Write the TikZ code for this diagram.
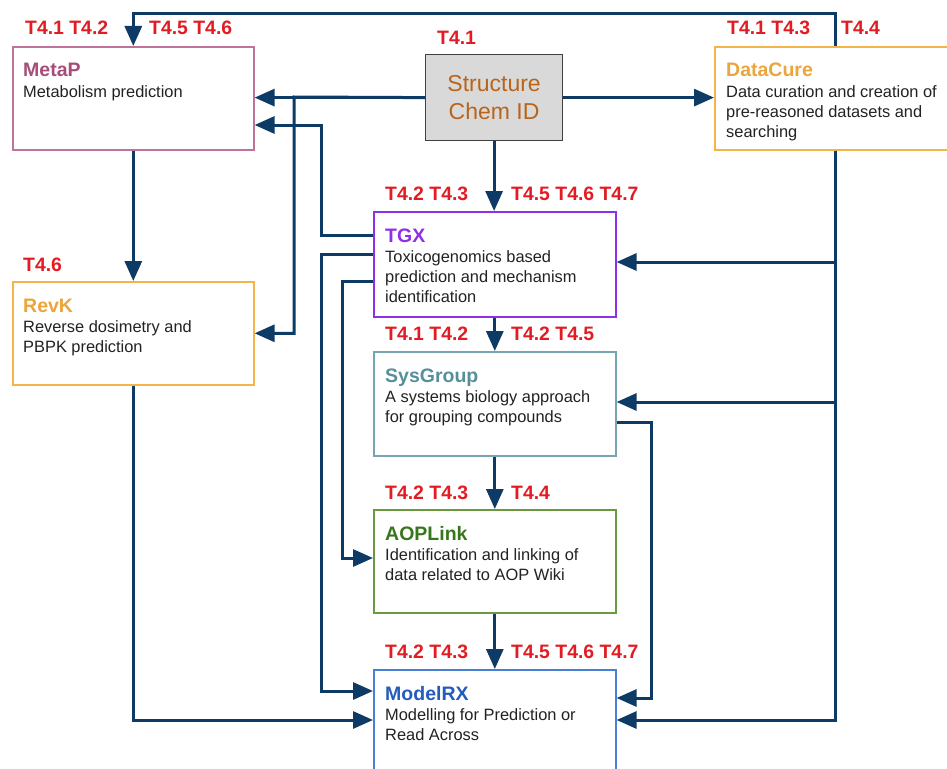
\documentclass[tikz,border=0pt]{standalone}
\usepackage{fontspec}
\setmainfont{Liberation Sans}
\usetikzlibrary{arrows.meta}

\definecolor{flowc}{HTML}{0D3B66}
\definecolor{tagc}{HTML}{E31B23}
\definecolor{bodyc}{HTML}{222222}
\definecolor{metab}{HTML}{C0739A}
\definecolor{metat}{HTML}{A64D79}
\definecolor{cureb}{HTML}{F4B448}
\definecolor{curet}{HTML}{ECA53A}
\definecolor{tgxc}{HTML}{9030E6}
\definecolor{sysb}{HTML}{76A5AF}
\definecolor{syst}{HTML}{55909A}
\definecolor{aopb}{HTML}{6A9A3F}
\definecolor{aopt}{HTML}{38761D}
\definecolor{modb}{HTML}{4A7FD6}
\definecolor{modt}{HTML}{245CBC}
\definecolor{chemt}{HTML}{B8651B}

\tikzset{
  flow/.style={line width=3pt, draw=flowc, -{Triangle[length=20pt,width=17pt]}},
  block/.style={draw, line width=1.6pt, fill=white, anchor=north west, inner sep=0pt},
  title/.style={anchor=base west, inner sep=0pt, font=\fontsize{19.5}{23}\selectfont\bfseries},
  body/.style={anchor=base west, inner sep=0pt, align=left, text=bodyc,
    font=\fontsize{16.4}{20}\selectfont},
  tag/.style={anchor=base west, inner sep=0pt, text=tagc,
    font=\fontsize{19.4}{23}\selectfont\bfseries},
}

\begin{document}
\begin{tikzpicture}[x=1pt,y=-1pt]
  \useasboundingbox (0,0) rectangle (947,768);
  \clip (0,0) rectangle (947,768);
  \fill[white] (0,0) rectangle (947,768);

  % boxes
  \node[block, draw=metab, minimum width=241pt, minimum height=103pt] (metap) at (12,46) {};
  \node[block, draw=cureb, minimum width=240pt, minimum height=103pt] (datacure) at (714,46) {};
  \node[block, draw=cureb, minimum width=241pt, minimum height=103pt] (revk) at (12,281) {};
  \node[block, draw=tgxc, minimum width=242pt, minimum height=105pt] (tgx) at (373,211) {};
  \node[block, draw=sysb, minimum width=242pt, minimum height=104pt] (sysgroup) at (373,351) {};
  \node[block, draw=aopb, minimum width=242pt, minimum height=103pt] (aoplink) at (373,509) {};
  \node[block, draw=modb, minimum width=242pt, minimum height=110pt] (modelrx) at (373,669) {};
  \node[block, draw=black!75, line width=1.2pt, fill=black!15, minimum width=137pt,
    minimum height=86pt, align=center, text=chemt,
    font=\fontsize{23}{28}\selectfont] (chem) at (425,54) {Structure\\Chem ID};

  % box texts (body nodes sit on the baseline of their last line)
  \node[title, text=metat] (metapT) at (23,77) {MetaP};
  \node[body] (metapB) at (23,97) {Metabolism prediction};
  \node[title, text=curet] (datacureT) at (726,77) {DataCure};
  \node[body] (datacureB) at (726,137) {Data curation and creation of\\pre-reasoned datasets and\\searching};
  \node[title, text=curet] (revkT) at (23,312) {RevK};
  \node[body] (revkB) at (23,352) {Reverse dosimetry and\\PBPK prediction};
  \node[title, text=tgxc] (tgxT) at (385,242) {TGX};
  \node[body] (tgxB) at (385,302) {Toxicogenomics based\\prediction and mechanism\\identification};
  \node[title, text=syst] (sysgroupT) at (385,382) {SysGroup};
  \node[body] (sysgroupB) at (385,422) {A systems biology approach\\for grouping compounds};
  \node[title, text=aopt] (aoplinkT) at (385,540) {AOPLink};
  \node[body] (aoplinkB) at (385,580) {Identification and linking of\\data related to AOP Wiki};
  \node[title, text=modt] (modelrxT) at (385,700) {ModelRX};
  \node[body] (modelrxB) at (385,740) {Modelling for Prediction or\\Read Across};

  % task tags
  \node[tag] (tagA) at (25,35) {T4.1 T4.2};
  \node[tag] (tagB) at (149,35) {T4.5 T4.6};
  \node[tag] (tagC) at (437,45) {T4.1};
  \node[tag] (tagD) at (727,35) {T4.1 T4.3};
  \node[tag] (tagE) at (841,35) {T4.4};
  \node[tag] (tagF) at (23,271) {T4.6};
  \node[tag] (tagG) at (385,200) {T4.2 T4.3};
  \node[tag] (tagH) at (511,200) {T4.5 T4.6 T4.7};
  \node[tag] (tagI) at (385,340) {T4.1 T4.2};
  \node[tag] (tagJ) at (511,340) {T4.2 T4.5};
  \node[tag] (tagK) at (385,499) {T4.2 T4.3};
  \node[tag] (tagL) at (511,499) {T4.4};
  \node[tag] (tagM) at (385,658) {T4.2 T4.3};
  \node[tag] (tagN) at (511,658) {T4.5 T4.6 T4.7};

  % connectors
  \draw[flow] (chem.west) -- (metap.east |- chem.west);
  \draw[flow] (chem.east) -- (datacure.west |- chem.east);
  \draw[flow] (chem.south) -- (chem.south |- tgx.north);
  \draw[flow] (chem.west) -- (294,97) |- (revk.east);
  \draw[flow] (tgx.west |- 0,235) -| (321,125) -- (metap.east |- 0,125);
  \draw[flow] (tgx.west |- 0,254) -| (321,691) -- (modelrx.west |- 0,691);
  \draw[flow] (tgx.west |- 0,281) -| (342,558) -- (aoplink.west |- 0,558);
  \draw[flow] (metap.south) -- (revk.north);
  \draw[flow] (revk.south) |- (modelrx.west |- 0,720);
  \draw[flow] (tgx.south) -- (sysgroup.north);
  \draw[flow] (sysgroup.south) -- (aoplink.north);
  \draw[flow] (aoplink.south) -- (modelrx.north);
  \draw[flow] (sysgroup.east |- 0,422) -| (651,698) -- (modelrx.east |- 0,698);
  \draw[flow] (datacure.north -| 835,0) |- (metap.north |- 0,14) -- (metap.north);
  \draw[flow] (datacure.south -| 835,0) |- (tgx.east |- 0,262);
  \draw[flow] (datacure.south -| 835,0) |- (sysgroup.east |- 0,402);
  \draw[flow] (datacure.south -| 835,0) |- (modelrx.east |- 0,720);
\end{tikzpicture}
\end{document}
